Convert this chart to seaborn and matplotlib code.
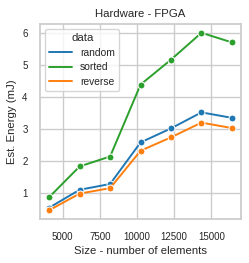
import matplotlib
matplotlib.use("Agg")
import matplotlib.pyplot as plt
from matplotlib.lines import Line2D
import pandas as pd
import seaborn as sns

# input sizes (number of elements)
sizes = [4096, 6144, 8192, 10240, 12288, 14336, 16384]

# estimated energy in mJ per input ordering
random_vals = [0.55, 1.11, 1.29, 2.59, 3.03, 3.53, 3.36]
sorted_vals = [0.88, 1.84, 2.15, 4.40, 5.18, 6.02, 5.72]
reverse_vals = [0.47, 0.99, 1.16, 2.33, 2.75, 3.21, 3.04]

data_order = ['random', 'sorted', 'reverse']

rows = []
for name, vals in zip(data_order, [random_vals, sorted_vals, reverse_vals]):
    for s, v in zip(sizes, vals):
        rows.append({'size': s, 'energy': v, 'data': name})
df = pd.DataFrame(rows)

sns.set_theme(style="whitegrid")
plt.rcParams['font.family'] = ['Liberation Sans', 'DejaVu Sans']

fig, ax = plt.subplots(figsize=(2.49, 2.63), dpi=100)
pal = {'random': '#1f77b4', 'sorted': '#2ca02c', 'reverse': '#ff7f0e'}
sns.lineplot(data=df, x='size', y='energy', hue='data', hue_order=data_order,
             palette=pal, marker='o', markersize=5, linewidth=1.4, ax=ax,
             legend=False)

ax.set_title("Hardware - FPGA", fontsize=8.2, pad=5)
ax.set_xlabel("Size - number of elements", fontsize=8.2, labelpad=3)
ax.set_ylabel("Est. Energy (mJ)", fontsize=8.2, labelpad=4)
ax.tick_params(labelsize=7, pad=3)
ax.set_xticks([5000, 7500, 10000, 12500, 15000])

# legend with plain lines, like the original
handles = [Line2D([], [], color=pal[n], lw=1.4) for n in data_order]
ax.legend(handles, data_order, title='data', fontsize=7.4, title_fontsize=8.2,
          loc='upper left', handlelength=2.2, borderaxespad=0.5,
          labelspacing=0.45)

fig.subplots_adjust(left=0.161, right=0.968, top=0.909, bottom=0.167)
fig.savefig('out.png', dpi=100)
